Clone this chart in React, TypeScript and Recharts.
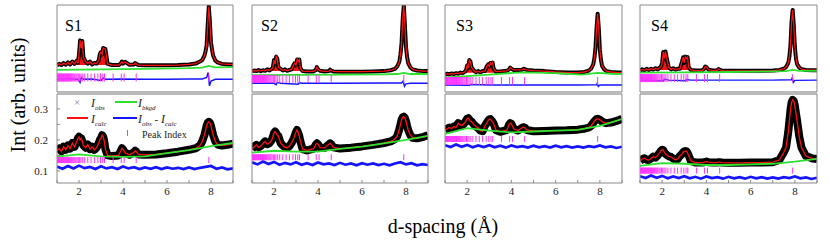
import React from 'react'
import { ComposedChart, Line, Area, Scatter, XAxis, YAxis } from 'recharts'

// d-spacing grid shared by every calculated profile
const dGrid = [
  1.0, 1.1, 1.2, 1.3, 1.4, 1.5, 1.6, 1.7, 1.8, 1.9,
  1.95, 2.0, 2.05, 2.1, 2.15, 2.2, 2.3, 2.4, 2.5, 2.6,
  2.7, 2.8, 2.9, 2.95, 3.0, 3.05, 3.1, 3.15, 3.2, 3.3,
  3.5, 3.8, 3.9, 3.95, 4.0, 4.1, 4.3, 4.5, 4.55, 4.6,
  4.7, 5.0, 5.5, 6.0, 6.5, 7.0, 7.3, 7.5, 7.6, 7.7,
  7.75, 7.8, 7.85, 7.9, 7.95, 8.0, 8.05, 8.1, 8.2, 8.3,
  8.5, 8.8, 9.0,
]

// grid of the difference curves in the zoomed (lower) panels
const diffGrid = [
  1, 1.25, 1.5, 1.75, 2, 2.25, 2.5, 2.75, 3, 3.25, 3.5, 3.75, 4, 4.25, 4.5, 4.75,
  5, 5.25, 5.5, 5.75, 6, 6.25, 6.5, 6.75, 7, 7.25, 7.5, 7.75, 8, 8.25, 8.5, 8.75, 9,
]

// reflection positions (Peak Index)
const peakIndex = [
  1.01, 1.04, 1.07, 1.1, 1.12, 1.15, 1.18, 1.21, 1.24, 1.27, 1.3, 1.33, 1.36, 1.39,
  1.42, 1.45, 1.48, 1.52, 1.55, 1.58, 1.62, 1.65, 1.69, 1.73, 1.77, 1.81, 1.86, 1.91,
  1.97, 2.03, 2.09, 2.17, 2.26, 2.4, 2.55, 2.7, 2.86, 2.98, 3.08, 3.16, 3.55, 3.92,
  4.05, 4.6, 7.9,
]

const xTicks = [1, 2, 3, 4, 5, 6, 7, 8, 9]
const topYTicks = [1, 2]
const botYTicks = [0.1, 0.15, 0.2, 0.25, 0.3]

// ---- upper row (full range) ----
const s1TopCalc = [
  0.92, 0.97, 0.93, 1.0, 0.94, 1.02, 0.95, 1.05, 0.97, 1.08,
  1.0, 1.3, 1.78, 1.5, 1.76, 1.2, 1.05, 0.98, 1.05, 0.95,
  1.0, 0.98, 1.1, 1.32, 1.38, 1.3, 1.52, 1.5, 1.48, 0.97,
  0.93, 0.93, 0.98, 1.05, 0.98, 1.04, 0.94, 0.95, 1.0, 0.97,
  0.93, 0.92, 0.92, 0.92, 0.93, 0.95, 0.98, 1.05, 1.1, 1.25,
  1.4, 1.6, 2.3, 2.95, 2.4, 1.7, 1.45, 1.25, 1.08, 1.02,
  0.97, 0.95, 0.95,
]
const s2TopCalc = [
  0.71, 0.74, 0.72, 0.76, 0.72, 0.75, 0.73, 0.78, 0.74, 0.8,
  0.85, 1.1, 0.95, 1.22, 1.15, 0.85, 0.8, 0.74, 0.78, 0.73,
  0.76, 0.78, 0.95, 1.0, 0.92, 1.12, 1.05, 1.12, 0.82, 0.72,
  0.71, 0.71, 0.76, 0.86, 0.78, 0.73, 0.71, 0.72, 0.77, 0.74,
  0.71, 0.7, 0.7, 0.7, 0.71, 0.72, 0.75, 0.8, 0.88, 1.05,
  1.3, 1.7, 2.5, 2.98, 2.3, 1.55, 1.2, 1.0, 0.85, 0.78,
  0.74, 0.72, 0.72,
]
const s3TopCalc = [
  0.6, 0.63, 0.61, 0.64, 0.62, 0.65, 0.63, 0.67, 0.65, 0.7,
  0.75, 0.92, 0.82, 1.1, 1.05, 0.85, 0.75, 0.68, 0.72, 0.68,
  0.72, 0.72, 0.9, 0.95, 0.88, 1.0, 0.95, 1.01, 0.8, 0.7,
  0.71, 0.73, 0.78, 0.84, 0.8, 0.76, 0.76, 0.77, 0.8, 0.79,
  0.76, 0.74, 0.72, 0.69, 0.67, 0.67, 0.69, 0.74, 0.8, 0.95,
  1.15, 1.5, 2.2, 2.7, 2.2, 1.45, 1.1, 0.9, 0.78, 0.72,
  0.69, 0.67, 0.67,
]
const s4TopCalc = [
  0.74, 0.78, 0.75, 0.8, 0.76, 0.8, 0.77, 0.82, 0.78, 0.84,
  0.88, 1.0, 1.38, 1.15, 1.4, 1.2, 0.85, 0.78, 0.82, 0.77,
  0.8, 0.8, 1.05, 1.2, 1.0, 1.22, 1.15, 1.2, 0.85, 0.76,
  0.74, 0.74, 0.8, 0.88, 0.86, 0.77, 0.74, 0.75, 0.79, 0.77,
  0.74, 0.73, 0.73, 0.73, 0.73, 0.74, 0.76, 0.8, 0.86, 1.0,
  1.2, 1.6, 2.4, 2.83, 2.3, 1.55, 1.15, 0.96, 0.84, 0.79,
  0.76, 0.75, 0.75,
]

const s1TopBkg = [[1, 0.76], [3, 0.78], [5, 0.8], [7, 0.82], [7.6, 0.84], [7.9, 0.9], [8.2, 0.85], [9, 0.86]]
const s2TopBkg = [[1, 0.58], [3, 0.59], [5, 0.6], [7, 0.61], [7.6, 0.62], [7.9, 0.66], [8.2, 0.62], [9, 0.62]]
const s3TopBkg = [[1, 0.5], [2, 0.55], [3, 0.6], [4.5, 0.68], [6, 0.65], [7.2, 0.6], [7.9, 0.66], [8.5, 0.63], [9, 0.62]]
const s4TopBkg = [[1, 0.67], [3, 0.68], [5, 0.69], [7, 0.71], [7.6, 0.72], [7.9, 0.76], [8.2, 0.73], [9, 0.73]]

const s1TopDiff = [
  [1, 0.44], [1.5, 0.46], [1.95, 0.44], [2.05, 0.33], [2.1, 0.5], [2.2, 0.44], [2.6, 0.45],
  [3.0, 0.4], [3.1, 0.48], [3.2, 0.44], [4, 0.45], [5, 0.44], [6, 0.44], [7, 0.45], [7.6, 0.45],
  [7.8, 0.5], [7.87, 0.67], [7.93, 0.21], [8.0, 0.38], [8.2, 0.44], [9, 0.44],
]
const s2TopDiff = [
  [1, 0.3], [2, 0.3], [2.1, 0.25], [2.15, 0.33], [2.3, 0.3], [3.1, 0.27], [3.15, 0.32], [3.3, 0.3],
  [5, 0.3], [7, 0.31], [7.8, 0.31], [7.87, 0.37], [7.93, 0.2], [8.0, 0.28], [8.2, 0.3], [9, 0.3],
]
const s3TopDiff = [
  [1, 0.24], [2.1, 0.23], [2.15, 0.26], [3, 0.24], [5, 0.24], [7, 0.24], [7.85, 0.25],
  [7.88, 0.3], [7.93, 0.19], [8.0, 0.24], [9, 0.24],
]
const s4TopDiff = [
  [1, 0.41], [2.05, 0.38], [2.1, 0.44], [2.3, 0.41], [3.05, 0.39], [3.1, 0.43], [3.3, 0.41],
  [5, 0.41], [7, 0.41], [7.85, 0.42], [7.88, 0.5], [7.93, 0.33], [8.0, 0.4], [9, 0.41],
]

// ---- lower row (zoomed intensity) ----
const s1BotCalc = [
  0.165, 0.172, 0.163, 0.178, 0.168, 0.182, 0.172, 0.19, 0.178, 0.195,
  0.205, 0.21, 0.2, 0.205, 0.195, 0.182, 0.175, 0.185, 0.17, 0.178,
  0.168, 0.175, 0.19, 0.2, 0.205, 0.215, 0.21, 0.195, 0.17, 0.15,
  0.148, 0.15, 0.165, 0.173, 0.17, 0.158, 0.152, 0.16, 0.165, 0.162,
  0.153, 0.152, 0.153, 0.157, 0.162, 0.168, 0.173, 0.182, 0.195, 0.215,
  0.23, 0.245, 0.255, 0.258, 0.255, 0.245, 0.23, 0.215, 0.195, 0.185,
  0.182, 0.185, 0.188,
]
const s2BotCalc = [
  0.17, 0.178, 0.184, 0.176, 0.18, 0.188, 0.195, 0.186, 0.19, 0.2,
  0.21, 0.222, 0.227, 0.222, 0.215, 0.212, 0.19, 0.182, 0.176, 0.174,
  0.18, 0.19, 0.205, 0.215, 0.225, 0.232, 0.222, 0.212, 0.195, 0.17,
  0.166, 0.172, 0.185, 0.189, 0.186, 0.175, 0.174, 0.186, 0.189, 0.186,
  0.176, 0.172, 0.175, 0.179, 0.184, 0.19, 0.195, 0.203, 0.212, 0.235,
  0.25, 0.265, 0.273, 0.275, 0.27, 0.26, 0.245, 0.232, 0.215, 0.207,
  0.205, 0.21, 0.215,
]
const s3BotCalc = [
  0.232, 0.236, 0.24, 0.236, 0.243, 0.24, 0.254, 0.248, 0.248, 0.256,
  0.262, 0.268, 0.27, 0.266, 0.26, 0.259, 0.25, 0.243, 0.238, 0.23,
  0.228, 0.245, 0.256, 0.262, 0.266, 0.267, 0.263, 0.258, 0.252, 0.232,
  0.226, 0.232, 0.25, 0.254, 0.252, 0.236, 0.23, 0.24, 0.241, 0.24,
  0.232, 0.228, 0.229, 0.23, 0.231, 0.233, 0.236, 0.24, 0.245, 0.255,
  0.26, 0.264, 0.267, 0.268, 0.267, 0.265, 0.262, 0.259, 0.256, 0.254,
  0.256, 0.262, 0.268,
]
const s4BotCalc = [
  0.132, 0.138, 0.141, 0.136, 0.135, 0.14, 0.146, 0.143, 0.15, 0.16,
  0.165, 0.168, 0.167, 0.16, 0.155, 0.152, 0.147, 0.145, 0.14, 0.136,
  0.138, 0.148, 0.155, 0.16, 0.163, 0.164, 0.163, 0.158, 0.15, 0.132,
  0.127, 0.127, 0.128, 0.129, 0.13, 0.128, 0.127, 0.127, 0.128, 0.128,
  0.127, 0.126, 0.126, 0.127, 0.127, 0.128, 0.135, 0.16, 0.175, 0.225,
  0.26, 0.295, 0.32, 0.329, 0.325, 0.31, 0.285, 0.262, 0.21, 0.175,
  0.148, 0.14, 0.138,
]

const s1BotBkg = [[1, 0.146], [2, 0.153], [3, 0.147], [4, 0.145], [5, 0.147], [6, 0.157], [7, 0.167], [8, 0.18], [9, 0.19]]
const s2BotBkg = [[1, 0.159], [2, 0.165], [3, 0.162], [4, 0.162], [5, 0.171], [6, 0.178], [7, 0.189], [8, 0.2], [9, 0.213]]
const s3BotBkg = [[1, 0.219], [2, 0.238], [3, 0.23], [4, 0.224], [5, 0.227], [6, 0.23], [7, 0.232], [8, 0.245], [9, 0.267]]
const s4BotBkg = [[1, 0.116], [2, 0.125], [3, 0.123], [4, 0.119], [5, 0.119], [6, 0.121], [7, 0.123], [8, 0.13], [9, 0.139]]

const s1BotDiff = [
  0.114, 0.107, 0.116, 0.108, 0.117, 0.109, 0.113, 0.106, 0.115, 0.108, 0.112, 0.106, 0.114, 0.108, 0.112, 0.106,
  0.111, 0.107, 0.112, 0.106, 0.111, 0.107, 0.11, 0.106, 0.111, 0.106, 0.11, 0.113, 0.116, 0.107, 0.111, 0.105, 0.108,
]
const s2BotDiff = [
  0.128, 0.121, 0.13, 0.122, 0.129, 0.12, 0.126, 0.121, 0.128, 0.12, 0.125, 0.119, 0.127, 0.121, 0.124, 0.119,
  0.126, 0.12, 0.124, 0.118, 0.125, 0.12, 0.124, 0.119, 0.123, 0.118, 0.124, 0.128, 0.121, 0.125, 0.118, 0.122, 0.119,
]
const s3BotDiff = [
  0.183, 0.177, 0.185, 0.178, 0.184, 0.176, 0.182, 0.177, 0.183, 0.176, 0.181, 0.175, 0.182, 0.177, 0.18, 0.175,
  0.181, 0.176, 0.18, 0.175, 0.181, 0.176, 0.18, 0.175, 0.179, 0.175, 0.18, 0.177, 0.182, 0.176, 0.179, 0.174, 0.178,
]
const s4BotDiff = [
  0.083, 0.077, 0.085, 0.078, 0.084, 0.076, 0.082, 0.077, 0.083, 0.076, 0.081, 0.075, 0.082, 0.077, 0.08, 0.075,
  0.081, 0.076, 0.08, 0.075, 0.081, 0.076, 0.08, 0.075, 0.079, 0.075, 0.08, 0.077, 0.082, 0.076, 0.079, 0.074, 0.078,
]

type Pt = { d: number; v: number }
const zip = (xs: number[], ys: number[]): Pt[] => xs.map((d, i) => ({ d, v: ys[i] }))
const pairs = (list: number[][]): Pt[] => list.map(([d, v]) => ({ d, v }))

interface PanelCfg {
  label?: string
  calc: Pt[]
  bkg: Pt[]
  diff: Pt[]
  tickY: number
  fillBase?: number
}

const topPanels: PanelCfg[] = [
  { label: 'S1', calc: zip(dGrid, s1TopCalc), bkg: pairs(s1TopBkg), diff: pairs(s1TopDiff), tickY: 0.5, fillBase: 0.93 },
  { label: 'S2', calc: zip(dGrid, s2TopCalc), bkg: pairs(s2TopBkg), diff: pairs(s2TopDiff), tickY: 0.45, fillBase: 0.72 },
  { label: 'S3', calc: zip(dGrid, s3TopCalc), bkg: pairs(s3TopBkg), diff: pairs(s3TopDiff), tickY: 0.38, fillBase: 0.66 },
  { label: 'S4', calc: zip(dGrid, s4TopCalc), bkg: pairs(s4TopBkg), diff: pairs(s4TopDiff), tickY: 0.48, fillBase: 0.76 },
]
const botPanels: PanelCfg[] = [
  { calc: zip(dGrid, s1BotCalc), bkg: pairs(s1BotBkg), diff: zip(diffGrid, s1BotDiff), tickY: 0.135 },
  { calc: zip(dGrid, s2BotCalc), bkg: pairs(s2BotBkg), diff: zip(diffGrid, s2BotDiff), tickY: 0.144 },
  { calc: zip(dGrid, s3BotCalc), bkg: pairs(s3BotBkg), diff: zip(diffGrid, s3BotDiff), tickY: 0.203 },
  { calc: zip(dGrid, s4BotCalc), bkg: pairs(s4BotBkg), diff: zip(diffGrid, s4BotDiff), tickY: 0.101 },
]

const FRAME = '#8a8a8a'
const SEAM = '#a3a3a3'
const SERIF = '"Liberation Serif", "Times New Roman", serif'
const OBS = '#000000'
const CALC = '#ff1010'
const BKG = '#2fe02f'
const DIFF = '#1414ff'
const PINK = '#ff30ff'

const colLeft = [57, 252, 445, 640]
const colWidth = [176, 176, 177, 177]
const rowTop = [5, 94]
const rowHeight = [87, 89]
const LW = 40
const BH = 22

function Panel({ cfg, row, col }: { cfg: PanelCfg; row: number; col: number }) {
  const w = colWidth[col]
  const h = rowHeight[row]
  const isTop = row === 0
  const domainY = isTop ? [0, 3] : [0.061, 0.348]
  const yTicks = isTop ? topYTicks : botYTicks
  const tickHalf = isTop ? 4 : 3
  const fill = cfg.calc.filter((p) => p.d >= 1.9 && p.d <= 3.3)
  const ticksData = peakIndex.map((d) => ({ d, v: cfg.tickY }))
  const showY = !isTop && col === 0
  const frame = { stroke: FRAME, strokeWidth: 1 }
  const seam = { stroke: SEAM, strokeWidth: 1.6 }

  const PeakTick = (props: any) => (
    <line x1={props.cx} x2={props.cx} y1={props.cy - tickHalf} y2={props.cy + tickHalf} stroke={PINK} strokeWidth={1} />
  )

  return (
    <div style={{ position: 'absolute', left: colLeft[col] - LW, top: rowTop[row] - 1 }}>
      <ComposedChart width={LW + w + 1} height={1 + h + BH} margin={{ top: 0, right: 0, bottom: 0, left: 0 }}>
        <XAxis
          xAxisId="b"
          type="number"
          dataKey="d"
          domain={[1, 9]}
          ticks={xTicks}
          allowDataOverflow
          height={BH}
          tickSize={-3}
          tickMargin={7}
          axisLine={isTop ? seam : frame}
          tickLine={{ stroke: FRAME }}
          tick={isTop ? false : { fontSize: 11, fill: '#222', fontFamily: SERIF }}
          tickFormatter={(v: number) => (v % 2 === 0 ? String(v) : '')}
        />
        <XAxis
          xAxisId="t"
          orientation="top"
          type="number"
          dataKey="d"
          domain={[1, 9]}
          ticks={xTicks}
          allowDataOverflow
          height={1}
          tickSize={-3}
          axisLine={isTop ? frame : seam}
          tickLine={{ stroke: FRAME }}
          tick={false}
        />
        <YAxis
          yAxisId="l"
          type="number"
          dataKey="v"
          domain={domainY}
          ticks={yTicks}
          allowDataOverflow
          width={LW}
          tickSize={-3}
          tickMargin={12}
          axisLine={frame}
          tickLine={{ stroke: FRAME }}
          tick={showY ? { fontSize: 11, fill: '#222', fontFamily: SERIF } : false}
          tickFormatter={(v: number) => (Math.abs(v * 10 - Math.round(v * 10)) < 1e-6 ? v.toFixed(1) : '')}
        />
        <YAxis
          yAxisId="r"
          orientation="right"
          type="number"
          dataKey="v"
          domain={domainY}
          ticks={yTicks}
          allowDataOverflow
          width={1}
          tickSize={-3}
          axisLine={frame}
          tickLine={{ stroke: FRAME }}
          tick={false}
        />
        <Scatter xAxisId="b" yAxisId="l" data={ticksData} dataKey="v" shape={PeakTick} isAnimationActive={false} />
        <Line xAxisId="b" yAxisId="l" data={cfg.diff} dataKey="v" stroke={DIFF} strokeWidth={isTop ? 1.4 : 2.7} dot={false} isAnimationActive={false} />
        <Line xAxisId="b" yAxisId="l" data={cfg.calc} dataKey="v" stroke={OBS} strokeWidth={isTop ? 4 : 8} strokeLinejoin="round" dot={false} isAnimationActive={false} />
        {isTop && (
          <Area xAxisId="b" yAxisId="l" data={fill} dataKey="v" baseValue={cfg.fillBase} stroke="none" fill={CALC} fillOpacity={1} isAnimationActive={false} />
        )}
        <Line xAxisId="b" yAxisId="l" data={cfg.calc} dataKey="v" stroke={CALC} strokeWidth={1.3} dot={false} isAnimationActive={false} />
        <Line xAxisId="b" yAxisId="l" data={cfg.bkg} dataKey="v" stroke={BKG} strokeWidth={1.8} dot={false} isAnimationActive={false} />
      </ComposedChart>
      {cfg.label && (
        <div style={{ position: 'absolute', left: LW + (col === 0 ? 8 : col === 1 ? 9 : 11), top: 14, fontSize: 16, lineHeight: 1, fontFamily: SERIF }}>
          {cfg.label}
        </div>
      )}
    </div>
  )
}

function Sym({ base, sub }: { base: string; sub: string }) {
  return (
    <span style={{ fontStyle: 'italic', fontSize: 12 }}>
      {base}
      <span style={{ fontSize: 7, position: 'relative', top: 3 }}>{sub}</span>
    </span>
  )
}

function Legend() {
  const item = (left: number, cy: number, content: React.ReactNode) => (
    <div style={{ position: 'absolute', left, top: cy - 8, height: 16, lineHeight: '16px', whiteSpace: 'nowrap', color: '#222' }}>
      {content}
    </div>
  )
  const swatch = (left: number, cy: number, width: number, color: string) => (
    <div style={{ position: 'absolute', left, top: cy - 1, width, height: 2, background: color }} />
  )
  return (
    <>
      {item(74, 101, <span style={{ fontSize: 11, color: '#888' }}>×</span>)}
      {item(91, 102, <Sym base="I" sub="obs" />)}
      {swatch(115, 102, 22, BKG)}
      {item(138, 102, <Sym base="I" sub="bkgd" />)}
      {swatch(67, 118, 21, CALC)}
      {item(91, 118, <Sym base="I" sub="calc" />)}
      {swatch(113, 118, 24, DIFF)}
      {item(138, 118, <><Sym base="I" sub="obs" /><span style={{ fontSize: 11 }}> - </span><Sym base="I" sub="calc" /></>)}
      <div style={{ position: 'absolute', left: 127, top: 130, width: 1, height: 6, background: PINK }} />
      {item(142, 133, <span style={{ fontSize: 10 }}>Peak Index</span>)}
    </>
  )
}

export default function App() {
  return (
    <div style={{ position: 'absolute', left: 0, top: 0, width: 830, height: 246, background: '#fff', fontFamily: SERIF, overflow: 'hidden' }}>
      {topPanels.map((p, i) => (
        <Panel key={'t' + i} cfg={p} row={0} col={i} />
      ))}
      {botPanels.map((p, i) => (
        <Panel key={'b' + i} cfg={p} row={1} col={i} />
      ))}
      <Legend />
      <div
        style={{
          position: 'absolute', left: 18, top: 95, fontSize: 20, lineHeight: 1, whiteSpace: 'nowrap',
          transform: 'translate(-50%, -50%) rotate(-90deg)',
        }}
      >
        Int (arb. units)
      </div>
      <div style={{ position: 'absolute', left: 443, top: 216, fontSize: 20, lineHeight: 1, whiteSpace: 'nowrap', transform: 'translateX(-50%)' }}>
        d-spacing (Å)
      </div>
    </div>
  )
}
